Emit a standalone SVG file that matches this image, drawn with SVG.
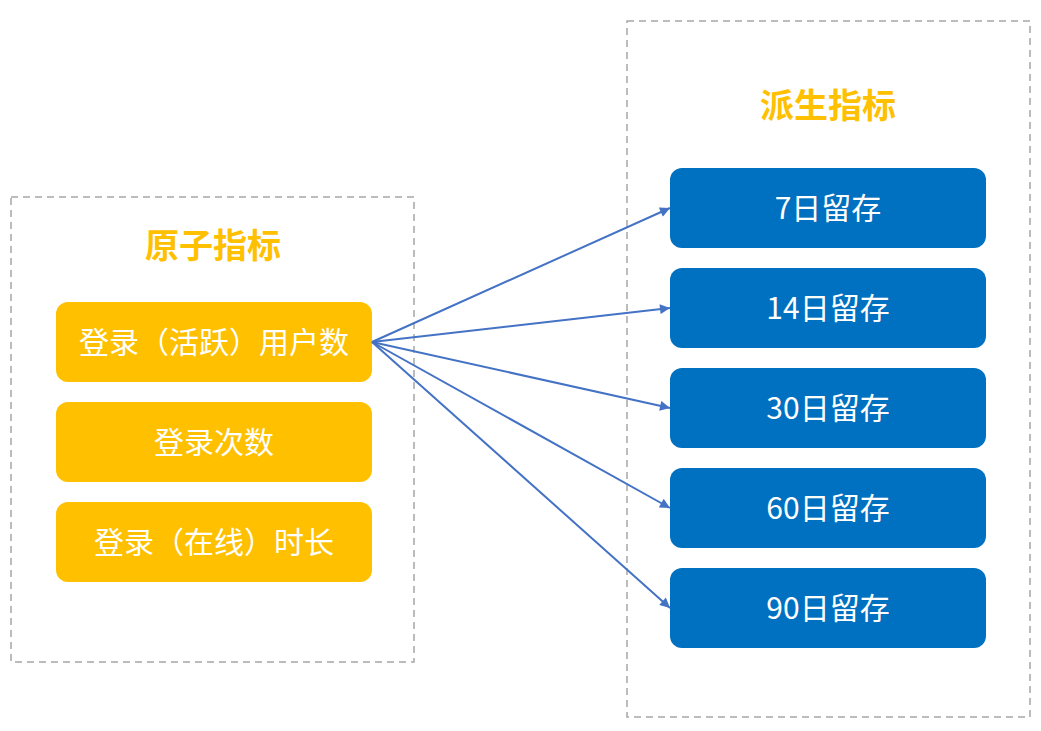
<svg xmlns="http://www.w3.org/2000/svg" width="1041" height="731" viewBox="0 0 1041 731">
<style>
.frame{fill:none;stroke:#A6A6A6;stroke-width:1.5;stroke-dasharray:7,5}
.title{font-family:"Noto Sans CJK SC","Noto Sans",sans-serif;font-size:34px;font-weight:bold;fill:#FFC000;text-anchor:middle}
.y{fill:#FFC000}
.b{fill:#0070C0}
.t{font-family:"Noto Sans CJK SC","Noto Sans",sans-serif;font-size:30px;fill:#FFFFFF;text-anchor:middle;dominant-baseline:central}
.c{stroke:#4472C4;stroke-width:2;fill:none;marker-end:url(#ah)}
</style>
<defs>
<marker id="ah" viewBox="0 0 10 10" refX="10" refY="5" markerWidth="12" markerHeight="10" markerUnits="userSpaceOnUse" orient="auto">
<path d="M0,0 L10,5 L0,10 z" fill="#4472C4"/>
</marker>
</defs>
<rect width="1041" height="731" fill="#FFFFFF"/>
<g id="frame-left"><rect class="frame" x="11" y="197" width="403" height="465"/><text class="title" x="213" y="258">原子指标</text></g>
<g id="frame-right"><rect class="frame" x="627" y="21" width="403" height="696"/><text class="title" x="828" y="118">派生指标</text></g>
<g id="n1"><rect class="y" x="56" y="302" width="316" height="80" rx="12"/><text class="t" x="214" y="340">登录（活跃）用户数</text></g>
<g id="n2"><rect class="y" x="56" y="402" width="316" height="80" rx="12"/><text class="t" x="214" y="440">登录次数</text></g>
<g id="n3"><rect class="y" x="56" y="502" width="316" height="80" rx="12"/><text class="t" x="214" y="540">登录（在线）时长</text></g>
<g id="d1"><rect class="b" x="670" y="168" width="316" height="80" rx="12"/><text class="t" x="828" y="206">7日留存</text></g>
<g id="d2"><rect class="b" x="670" y="268" width="316" height="80" rx="12"/><text class="t" x="828" y="306">14日留存</text></g>
<g id="d3"><rect class="b" x="670" y="368" width="316" height="80" rx="12"/><text class="t" x="828" y="406">30日留存</text></g>
<g id="d4"><rect class="b" x="670" y="468" width="316" height="80" rx="12"/><text class="t" x="828" y="506">60日留存</text></g>
<g id="d5"><rect class="b" x="670" y="568" width="316" height="80" rx="12"/><text class="t" x="828" y="606">90日留存</text></g>
<g id="connectors">
<line class="c" x1="372" y1="342" x2="670" y2="208"/>
<line class="c" x1="372" y1="342" x2="670" y2="308"/>
<line class="c" x1="372" y1="342" x2="670" y2="408"/>
<line class="c" x1="372" y1="342" x2="670" y2="508"/>
<line class="c" x1="372" y1="342" x2="670" y2="608"/>
</g>
</svg>
